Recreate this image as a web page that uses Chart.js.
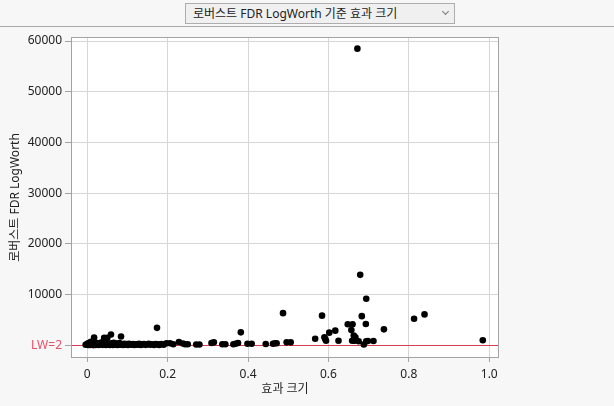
<!DOCTYPE html>
<html>
<head>
<meta charset="utf-8">
<script src="https://cdn.jsdelivr.net/npm/chart.js@4/dist/chart.umd.min.js"></script>
<style>
  html, body { margin:0; padding:0; width:614px; height:406px; background:#f7f7f7; overflow:hidden; }
  #dd { position:absolute; left:185px; top:3px; width:268px; height:19px; border:1px solid #adadad; background:#f0f0f0;
        font-family:'Noto Sans','Noto Sans CJK KR',sans-serif; font-size:12px; color:#222; line-height:19px; box-sizing:content-box; }
  #dd span { position:absolute; left:7px; top:0; }
  #chev { position:absolute; left:257px; top:5px; width:4px; height:4px; border-right:1px solid #777; border-bottom:1px solid #777; transform:rotate(45deg); }
  #rule { position:absolute; left:0; top:26px; width:614px; height:1px; background:#a8a8a8; }
  #wrap { position:absolute; left:0; top:27px; width:614px; height:379px; }
</style>
</head>
<body>
<div id="dd"><span>로버스트 FDR LogWorth 기준 효과 크기</span><div id="chev"></div></div>
<div id="rule"></div>
<div id="wrap"><canvas id="c"></canvas></div>
<script>
const xTitle = '효과 크기';
const yTitle = '로버스트 FDR LogWorth';
const xTickValues = [0, 0.2, 0.4, 0.6, 0.8, 1.0];
const yTickValues = [2, 10000, 20000, 30000, 40000, 50000, 60000];
const lwValue = 2;
const lwLabel = 'LW=2';

const effectSize = [
  -0.004, 0.000, 0.002, 0.004, 0.005, 0.007, 0.009, 0.010, 0.012, 0.014,
  0.015, 0.017, 0.018, 0.020, 0.022, 0.024, 0.026, 0.028, 0.030, 0.032,
  0.034, 0.036, 0.038, 0.040, 0.042, 0.044, 0.046, 0.048, 0.050, 0.052,
  0.054, 0.056, 0.059, 0.060, 0.062, 0.064, 0.066, 0.068, 0.070, 0.073,
  0.075, 0.077, 0.080, 0.082, 0.084, 0.086, 0.089, 0.092, 0.095, 0.098,
  0.101, 0.104, 0.107, 0.110, 0.114, 0.117, 0.121, 0.125, 0.129, 0.133,
  0.137, 0.141, 0.145, 0.149, 0.153, 0.157, 0.161, 0.166, 0.1735, 0.170,
  0.175, 0.179, 0.184, 0.190,
  0.197, 0.206, 0.214, 0.228, 0.238, 0.2435, 0.250, 0.271, 0.279, 0.309,
  0.315, 0.336, 0.3435, 0.3635, 0.369, 0.375, 0.382, 0.3985, 0.409, 0.444,
  0.462, 0.467, 0.471, 0.487, 0.496, 0.506,
  0.672, 0.679, 0.694, 0.584, 0.683, 0.813, 0.839, 0.648, 0.660, 0.693,
  0.657, 0.738, 0.617, 0.602, 0.590, 0.592, 0.594, 0.567, 0.625, 0.663,
  0.667, 0.659, 0.665, 0.675, 0.688, 0.694, 0.698, 0.712, 0.984
];
const logWorth = [
  120, 300, 80, 450, 200, 60, 700, 250, 120, 380,
  50, 1550, 220, 90, 520, 160, 300, 70, 420, 180,
  240, 600, 100, 330, 1500, 210, 80, 460, 1500, 140,
  290, 60, 2150, 380, 170, 90, 520, 230, 110, 360,
  70, 200, 440, 130, 1750, 260, 90, 320, 150, 230,
  80, 300, 170, 110, 250, 60, 200, 130, 280, 90,
  190, 240, 100, 170, 300, 120, 220, 80, 3450, 260,
  180, 90, 250, 140,
  400, 400, 200, 650, 350, 200, 200, 150, 150, 450,
  590, 200, 200, 200, 310, 450, 2560, 310, 300, 260,
  320, 400, 400, 6350, 590, 590,
  58500, 13900, 9200, 5850, 5750, 5250, 6100, 4150, 4150, 4200,
  3000, 3150, 2900, 2500, 1600, 1250, 900, 1300, 900, 1950,
  1600, 900, 900, 800, 150, 800, 850, 850, 1000
];

const points = effectSize.map((x, i) => ({ x: x, y: logWorth[i] }));
const FONT = "'Noto Sans','Noto Sans CJK KR',sans-serif";
const RED = '#dc3a54';

const frame = {
  id: 'frame',
  beforeDraw(chart) {
    const a = chart.chartArea, ctx = chart.ctx;
    ctx.save(); ctx.fillStyle = '#ffffff';
    ctx.fillRect(a.left, a.top, a.right - a.left, a.bottom - a.top);
    ctx.restore();
  },
  beforeDatasetsDraw(chart) {
    const a = chart.chartArea, ctx = chart.ctx;
    const y = Math.round(chart.scales.y.getPixelForValue(lwValue)) + 0.5;
    ctx.save(); ctx.strokeStyle = RED; ctx.lineWidth = 1;
    ctx.beginPath(); ctx.moveTo(a.left, y); ctx.lineTo(a.right, y); ctx.stroke();
    ctx.restore();
  },
  afterDraw(chart) {
    const a = chart.chartArea, ctx = chart.ctx;
    ctx.save(); ctx.strokeStyle = '#a3a3a3'; ctx.lineWidth = 1;
    ctx.strokeRect(Math.round(a.left) - 0.5, Math.round(a.top) - 0.5, Math.round(a.right - a.left) + 1, Math.round(a.bottom - a.top) + 1);
    ctx.restore();
  }
};

new Chart(document.getElementById('c'), {
  type: 'scatter',
  data: { datasets: [{ data: points, backgroundColor: '#000', borderWidth: 0, pointRadius: 3.3, pointHoverRadius: 3.3 }] },
  options: {
    responsive: true, maintainAspectRatio: false, animation: false,
    events: [],
    layout: { padding: { top: 11, right: 116, left: 0, bottom: 0 } },
    plugins: { legend: { display: false }, tooltip: { enabled: false } },
    scales: {
      x: {
        type: 'linear', min: -0.038, max: 1.0218,
        afterBuildTicks: s => { s.ticks = xTickValues.map(v => ({ value: v })); },
        afterFit: s => { s.height = 49; },
        border: { display: false },
        grid: { color: '#d6d6d6', tickColor: '#a3a3a3', tickLength: 5, lineWidth: 1 },
        ticks: { color: '#222', font: { family: FONT, size: 12 }, padding: 5, maxRotation: 0,
                 callback: v => v === 0 ? '0' : v.toFixed(1) },
        title: { display: true, text: xTitle, color: '#222', font: { family: FONT, size: 12 }, padding: { top: 0, bottom: 9 } }
      },
      y: {
        type: 'linear', min: -2300, max: 60600,
        afterBuildTicks: s => { s.ticks = yTickValues.map(v => ({ value: v })); },
        afterFit: s => { s.width = 72; },
        border: { display: false },
        grid: { color: c => (c.tick && c.tick.value === lwValue) ? 'rgba(0,0,0,0)' : '#d6d6d6', tickColor: '#a3a3a3', tickLength: 7, lineWidth: 1 },
        ticks: { font: { family: FONT, size: 12 }, padding: 3,
                 color: c => (c.tick && c.tick.value === lwValue) ? '#e8506a' : '#222',
                 callback: v => v === lwValue ? lwLabel : String(v) },
        title: { display: true, text: yTitle, color: '#222', font: { family: FONT, size: 12 }, padding: { top: 8, bottom: 0 } }
      }
    }
  },
  plugins: [frame]
});
</script>
</body>
</html>
